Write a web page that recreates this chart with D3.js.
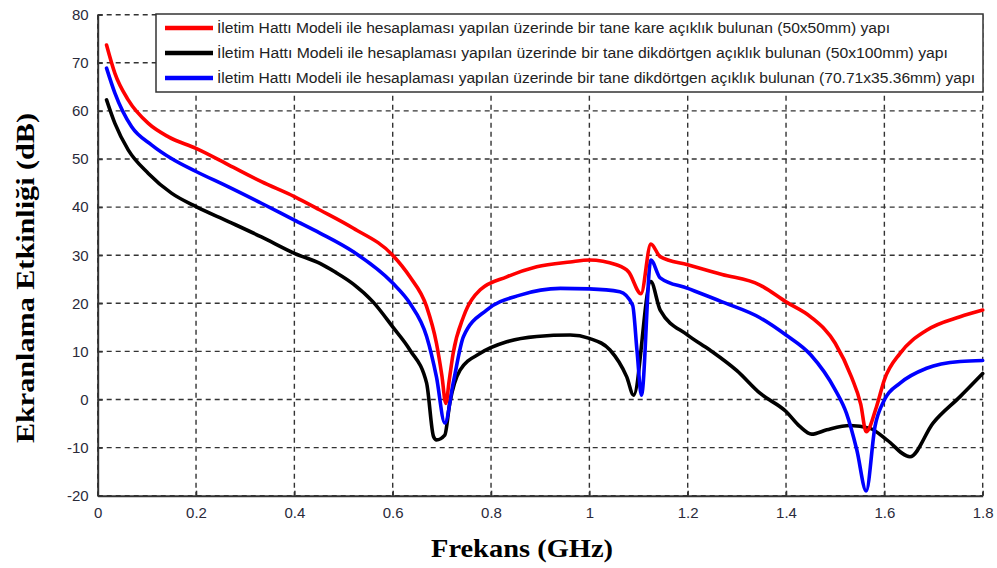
<!DOCTYPE html>
<html>
<head>
<meta charset="utf-8">
<script src="https://cdn.jsdelivr.net/npm/d3@7"></script>
<style>
  html, body { margin: 0; padding: 0; background: #fff; }
  svg { display: block; }
</style>
</head>
<body>
<svg id="chart" width="997" height="568"></svg>
<script>
// ---------- DATA ----------
const xTicks = [0, 0.2, 0.4, 0.6, 0.8, 1, 1.2, 1.4, 1.6, 1.8];
const xTickLabels = ["0", "0.2", "0.4", "0.6", "0.8", "1", "1.2", "1.4", "1.6", "1.8"];
const yTicks = [-20, -10, 0, 10, 20, 30, 40, 50, 60, 70, 80];
const yTickLabels = ["-20", "-10", "0", "10", "20", "30", "40", "50", "60", "70", "80"];

const seriesNames = [
  "İletim Hattı Modeli ile hesaplaması yapılan üzerinde bir tane kare açıklık bulunan (50x50mm) yapı",
  "İletim Hattı Modeli ile hesaplaması yapılan üzerinde bir tane dikdörtgen açıklık bulunan (50x100mm) yapı",
  "İletim Hattı Modeli ile hesaplaması yapılan üzerinde bir tane dikdörtgen açıklık bulunan (70.71x35.36mm) yapı"
];
const seriesColors = ["#ff0000", "#000000", "#0000ff"];

// Red: square aperture 50x50mm
const freqRed = [0.018,0.035,0.062,0.103,0.144,0.2,0.266,0.333,0.4,0.452,0.52,0.6,0.635,0.669,0.689,0.700,0.708,0.715,0.723,0.744,0.778,0.832,0.893,0.961,1.0,1.055,1.08,1.105,1.125,1.144,1.2,1.27,1.347,1.4,1.45,1.5,1.533,1.552,1.563,1.584,1.6,1.632,1.686,1.754,1.8];
const valRed  = [73.7,67.8,62.3,57.4,54.6,52.2,48.8,45.3,42.2,39.4,35.6,30.0,25.5,19.3,11.7,5,-0.8,4,9.6,17.2,22.8,25.5,27.6,28.6,29,28,26.5,22,32.3,29.7,28,26,23.8,20.3,17.2,11.7,4.7,-1,-6.7,-1.5,4.1,9.6,14.4,17.2,18.6];

// Black: rectangular aperture 50x100mm
const freqBlack = [0.018,0.035,0.062,0.103,0.15,0.2,0.266,0.333,0.4,0.452,0.483,0.52,0.56,0.6,0.635,0.669,0.683,0.689,0.706,0.716,0.737,0.778,0.832,0.893,0.961,1.0,1.042,1.076,1.09,1.125,1.144,1.2,1.245,1.3,1.347,1.4,1.428,1.452,1.483,1.53,1.571,1.605,1.652,1.699,1.754,1.8];
const valBlack  = [62.3,57.4,51.9,47.0,42.9,40.1,37,33.8,30.4,28.3,26.5,24.0,20.3,15.1,10.3,3.4,-7.7,-8.4,-7.4,-0.8,6.1,9.6,12,13.1,13.4,12.7,10.3,4.7,0.9,24.5,18.6,13.4,10.3,6,1.3,-2.5,-5.6,-7.2,-6.3,-5.4,-6,-8.4,-11.9,-4.9,0.6,5.4];

// Blue: rectangular aperture 70.71x35.36mm
const freqBlue = [0.018,0.035,0.069,0.11,0.15,0.2,0.266,0.333,0.4,0.452,0.52,0.6,0.635,0.669,0.689,0.706,0.723,0.744,0.791,0.859,0.941,1.0,1.062,1.088,1.097,1.106,1.125,1.144,1.2,1.27,1.347,1.4,1.45,1.5,1.523,1.544,1.563,1.581,1.6,1.632,1.686,1.754,1.8];
const valBlue  = [68.9,63.7,56.7,52.9,50.1,47.4,44.2,40.8,37.3,34.6,30.7,24.2,20,13.1,4.7,-4.9,3.4,13.1,18.6,21.7,23.1,23,22.4,19.6,10,0.9,29,25.3,23.1,20.3,17,13.4,9.3,2.0,-2.9,-10.5,-19,-5.6,-0.1,3.4,6.5,7.9,8.1];

// ---------- DRAW ----------
const svg = d3.select("#chart");
const pLeft = 97.7, pRight = 982.7, pTop = 14.7, pBottom = 495.7;

const x = d3.scaleLinear().domain([0, 1.8]).range([pLeft, pRight]);
const y = d3.scaleLinear().domain([-20, 80]).range([pBottom, pTop]);

const gridColor = "#333";
svg.append("g").selectAll("line").data(yTicks).join("line")
  .attr("x1", pLeft).attr("x2", pRight)
  .attr("y1", d => y(d)).attr("y2", d => y(d))
  .attr("stroke", gridColor).attr("stroke-width", 1.4)
  .attr("stroke-dasharray", "5,4");
svg.append("g").selectAll("line").data(xTicks).join("line")
  .attr("x1", d => x(d)).attr("x2", d => x(d))
  .attr("y1", pTop).attr("y2", pBottom)
  .attr("stroke", gridColor).attr("stroke-width", 1.4)
  .attr("stroke-dasharray", "5,4");

// axes
const xAxis = d3.axisBottom(x).tickValues(xTicks)
  .tickFormat((d, i) => xTickLabels[i]).tickSizeInner(-5).tickSizeOuter(0).tickPadding(12);
const yAxis = d3.axisLeft(y).tickValues(yTicks)
  .tickFormat((d, i) => yTickLabels[i]).tickSizeInner(-5).tickSizeOuter(0).tickPadding(9);

const gx = svg.append("g").attr("transform", `translate(0,${pBottom})`).call(xAxis);
const gy = svg.append("g").attr("transform", `translate(${pLeft},0)`).call(yAxis);
[gx, gy].forEach(g => {
  g.select(".domain").attr("stroke", "#333").attr("stroke-width", 2);
  g.selectAll(".tick line").attr("stroke", "#333").attr("stroke-width", 1.5);
  g.selectAll(".tick text").attr("font-family", "Arial, 'Liberation Sans', sans-serif")
    .attr("font-size", 15).attr("fill", "#2a2a3a");
});

// series lines
const allSeries = [
  { f: freqRed, v: valRed, c: seriesColors[0] },
  { f: freqBlack, v: valBlack, c: seriesColors[1] },
  { f: freqBlue, v: valBlue, c: seriesColors[2] }
];
const line = d3.line().x(d => x(d[0])).y(d => y(d[1])).curve(d3.curveMonotoneX);
const drawOrder = [1, 2, 0];
drawOrder.forEach(i => {
  const s = allSeries[i];
  svg.append("path")
    .datum(s.f.map((fv, j) => [fv, s.v[j]]))
    .attr("d", line)
    .attr("fill", "none")
    .attr("stroke", s.c)
    .attr("stroke-width", 3.6)
    .attr("stroke-linejoin", "round")
    .attr("stroke-linecap", "round");
});

// legend
const lg = svg.append("g");
lg.append("rect").attr("x", 156).attr("y", 14).attr("width", 983 - 156).attr("height", 78)
  .attr("fill", "#fff").attr("stroke", "#333").attr("stroke-width", 1.5);
const rowY = [28, 53, 78];
const textEnds = [890, 948, 975];
seriesNames.forEach((name, i) => {
  lg.append("line").attr("x1", 165).attr("x2", 213).attr("y1", rowY[i]).attr("y2", rowY[i])
    .attr("stroke", seriesColors[i]).attr("stroke-width", 4.5);
  lg.append("text").attr("x", 217).attr("y", rowY[i]).attr("dy", "0.35em")
    .attr("font-family", "Arial, 'Liberation Sans', sans-serif").attr("font-size", 14)
    .attr("fill", "#222")
    .attr("textLength", textEnds[i] - 217).attr("lengthAdjust", "spacingAndGlyphs")
    .text(name);
});

// axis titles
svg.append("text").attr("x", 431).attr("y", 557)
  .attr("font-family", "'Times New Roman', 'Liberation Serif', serif")
  .attr("font-weight", "bold").attr("font-size", 25).attr("fill", "#000")
  .attr("textLength", 182).attr("lengthAdjust", "spacingAndGlyphs")
  .text("Frekans (GHz)");
svg.append("text")
  .attr("transform", `translate(34,443) rotate(-90)`)
  .attr("font-family", "'Times New Roman', 'Liberation Serif', serif")
  .attr("font-weight", "bold").attr("font-size", 25).attr("fill", "#000")
  .attr("textLength", 330).attr("lengthAdjust", "spacingAndGlyphs")
  .text("Ekranlama Etkinliği (dB)");
</script>
</body>
</html>
